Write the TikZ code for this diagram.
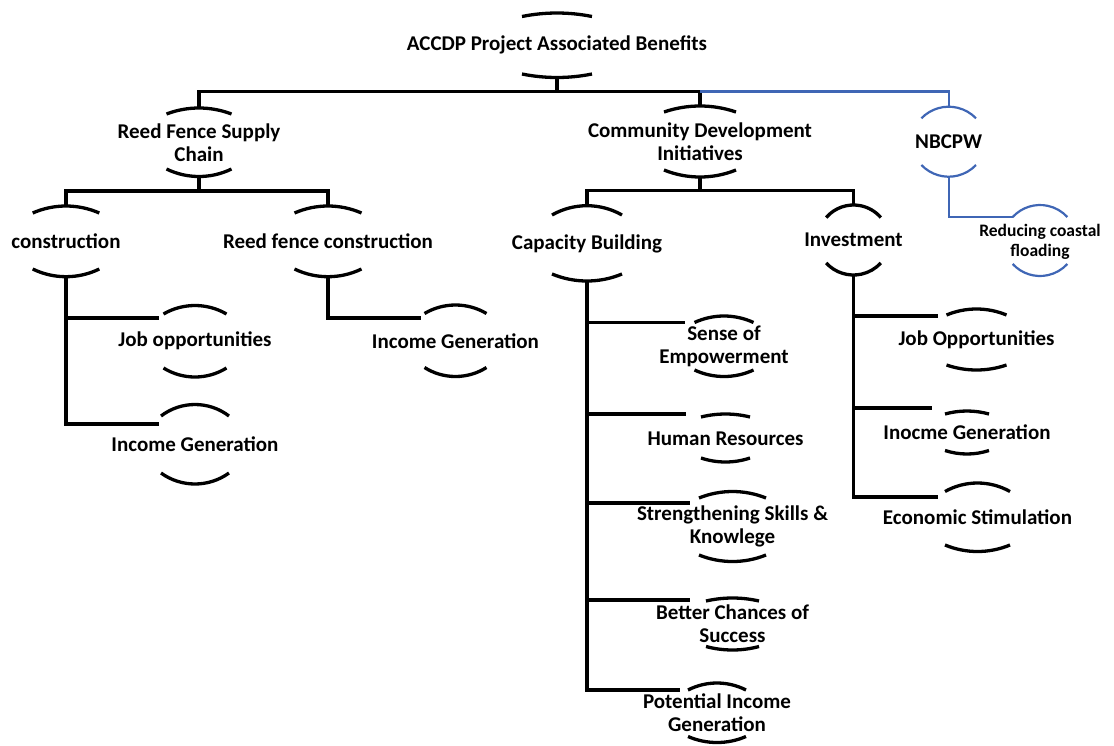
\documentclass[tikz,border=0pt]{standalone}
\usepackage{fontspec}
\setmainfont{Carlito}
\definecolor{linkblue}{HTML}{3F66B5}
\tikzset{
  lbl/.style={font=\bfseries\fontsize{21}{23}\selectfont, align=center, inner sep=0pt, text=black},
  lblsmall/.style={lbl, font=\bfseries\fontsize{17.5}{20}\selectfont},
  conn/.style={line width=3.3pt, black, line join=miter},
  bconn/.style={line width=2.2pt, linkblue, line join=miter},
  barc/.style={line width=3.3pt, black},
  barcblue/.style={line width=2.2pt, linkblue},
}
% top and bottom circular arcs of a benefit shape:
% #1 name, #2 centre x, #3 half chord, #4 top-arc apex y, #5 top-arc end y,
% #6 bottom-arc end y, #7 bottom-arc apex y, #8 line style
\newcommand\benefitarcs[8]{%
  \coordinate (#1-t) at (#2,#4);
  \coordinate (#1-b) at (#2,#7);
  \pgfmathsetmacro\bnfSagT{#5-#4}%
  \pgfmathsetmacro\bnfRadT{(#3*#3+\bnfSagT*\bnfSagT)/(2*\bnfSagT)}%
  \pgfmathsetmacro\bnfAngT{asin(#3/\bnfRadT)}%
  \pgfmathsetmacro\bnfSagB{#7-#6}%
  \pgfmathsetmacro\bnfRadB{(#3*#3+\bnfSagB*\bnfSagB)/(2*\bnfSagB)}%
  \pgfmathsetmacro\bnfAngB{asin(#3/\bnfRadB)}%
  \draw[#8] (#2-#3,#5) arc[start angle=-90-\bnfAngT, end angle=-90+\bnfAngT, radius=\bnfRadT];
  \draw[#8] (#2-#3,#6) arc[start angle=90+\bnfAngB, end angle=90-\bnfAngB, radius=\bnfRadB];
}
\begin{document}
\begin{tikzpicture}[x=1pt,y=-1pt]
\useasboundingbox (0,0) rectangle (1114,745);

% ---- level 0
\node[lbl] (acc) at (557,45) {ACCDP Project Associated Benefits};
\benefitarcs{acc}{557}{35}{13}{16.5}{74}{77.5}{barc}

% ---- level 1
\node[lbl] (rfsc) at (199,142.5) {Reed Fence Supply\\Chain};
\benefitarcs{rfsc}{199}{32.5}{108}{114}{169}{176.5}{barc}
\node[lbl] (cdi) at (700,142) {Community Development\\Initiatives};
\benefitarcs{cdi}{700}{36}{106}{112}{170}{177}{barc}
\node[lbl] (nb) at (948.7,141.7) {NBCPW};
\benefitarcs{nb}{948.7}{27.3}{106.7}{118.3}{165}{176.7}{barcblue}

% ---- level 2
\node[lbl] (cons) at (66,241.5) {construction};
\benefitarcs{cons}{66}{33.3}{206}{213}{269}{276.7}{barc}
\node[lbl] (rfc) at (328,241.5) {Reed fence construction};
\benefitarcs{rfc}{328}{33.5}{206}{213}{269}{276.7}{barc}
\node[lbl] (cb) at (587,243.5) {Capacity Building};
\benefitarcs{cb}{587}{35}{205.7}{215}{274}{281}{barc}
\node[lbl] (inv) at (853.5,240) {Investment};
\benefitarcs{inv}{853.5}{27.3}{205}{217.5}{263}{275}{barc}
\node[lblsmall] (red) at (1040,241.5) {Reducing coastal\\floading};
\benefitarcs{red}{1040}{27.3}{205}{217}{264}{276}{barcblue}

% ---- level 3
\node[lbl] (job1) at (195,341) {Job opportunities};
\benefitarcs{job1}{195}{31.5}{305.5}{314}{368}{377}{barc}
\node[lbl] (inc2) at (195,444.5) {Income Generation};
\benefitarcs{inc2}{195}{34}{404.5}{416}{473}{484}{barc}
\node[lbl] (inc1) at (455.5,341) {Income Generation};
\benefitarcs{inc1}{455.5}{31}{305}{313.5}{367.5}{376.5}{barc}

\node[lbl] (sense) at (724,346) {Sense of\\Empowerment};
\benefitarcs{sense}{724}{29.5}{316}{322.5}{370}{376.5}{barc}
\node[lbl] (hr) at (725.5,438.5) {Human Resources};
\benefitarcs{hr}{725.5}{24.5}{414}{417}{458}{462}{barc}
\node[lbl] (str) at (732.5,526.5) {Strengthening Skills \&\\Knowlege};
\benefitarcs{str}{732.5}{33.5}{491.5}{498}{555}{561.5}{barc}
\node[lbl] (bet) at (732.5,624) {Better Chances of\\Success};
\benefitarcs{bet}{732.5}{26.5}{598}{601}{646.5}{650}{barc}
\node[lbl] (pot) at (717,713) {Potential Income\\Generation};
\benefitarcs{pot}{717}{29}{683}{690}{736.5}{742.5}{barc}

\node[lbl] (job2) at (976.5,339.5) {Job Opportunities};
\benefitarcs{job2}{976.5}{30}{309}{315}{365}{370}{barc}
\node[lbl] (inoc) at (967,432.5) {Inocme Generation};
\benefitarcs{inoc}{967}{22}{411}{414}{450.5}{454}{barc}
\node[lbl] (eco) at (977.5,517.5) {Economic Stimulation};
\benefitarcs{eco}{977.5}{32.5}{483}{491.5}{545}{551.5}{barc}

% ---- entry points of side-attached shapes
\coordinate (job1-in)  at (159,318);
\coordinate (inc2-in)  at (159,424);
\coordinate (inc1-in)  at (421,318);
\coordinate (sense-in) at (685,322.5);
\coordinate (hr-in)    at (686,414);
\coordinate (str-in)   at (690,503);
\coordinate (bet-in)   at (690,600);
\coordinate (pot-in)   at (680,690);
\coordinate (job2-in)  at (938,316);
\coordinate (inoc-in)  at (932,408);
\coordinate (eco-in)   at (938,497);
\coordinate (red-in)   at (1012.7,217);

% ---- junctions of the branching bars
\coordinate (acc-j)  at (557,91.5);
\coordinate (rfsc-j) at (199,191);
\coordinate (cdi-j)  at (700,190.5);

% ---- connectors
\draw[conn] (acc-b) -- (acc-j) -| (rfsc-t);
\draw[conn] (acc-j) -| (cdi-t);
\draw[bconn] (cdi-t |- acc-j) -| (nb-t);

\draw[conn] (rfsc-b) -- (rfsc-j) -| (cons-t);
\draw[conn] (rfsc-j) -| (rfc-t);
\draw[conn] (cdi-b) -- (cdi-j) -| (cb-t);
\draw[conn] (cdi-j) -| (inv-t);
\draw[bconn] (nb-b) |- (red-in);

\draw[conn] (cons-b) |- (job1-in);
\draw[conn] (cons-b) |- (inc2-in);
\draw[conn] (rfc-b) |- (inc1-in);

\draw[conn] (cb-b) |- (sense-in);
\draw[conn] (cb-b) |- (hr-in);
\draw[conn] (cb-b) |- (str-in);
\draw[conn] (cb-b) |- (bet-in);
\draw[conn] (cb-b) |- (pot-in);

\draw[conn] (inv-b) |- (job2-in);
\draw[conn] (inv-b) |- (inoc-in);
\draw[conn] (inv-b) |- (eco-in);
\end{tikzpicture}
\end{document}
